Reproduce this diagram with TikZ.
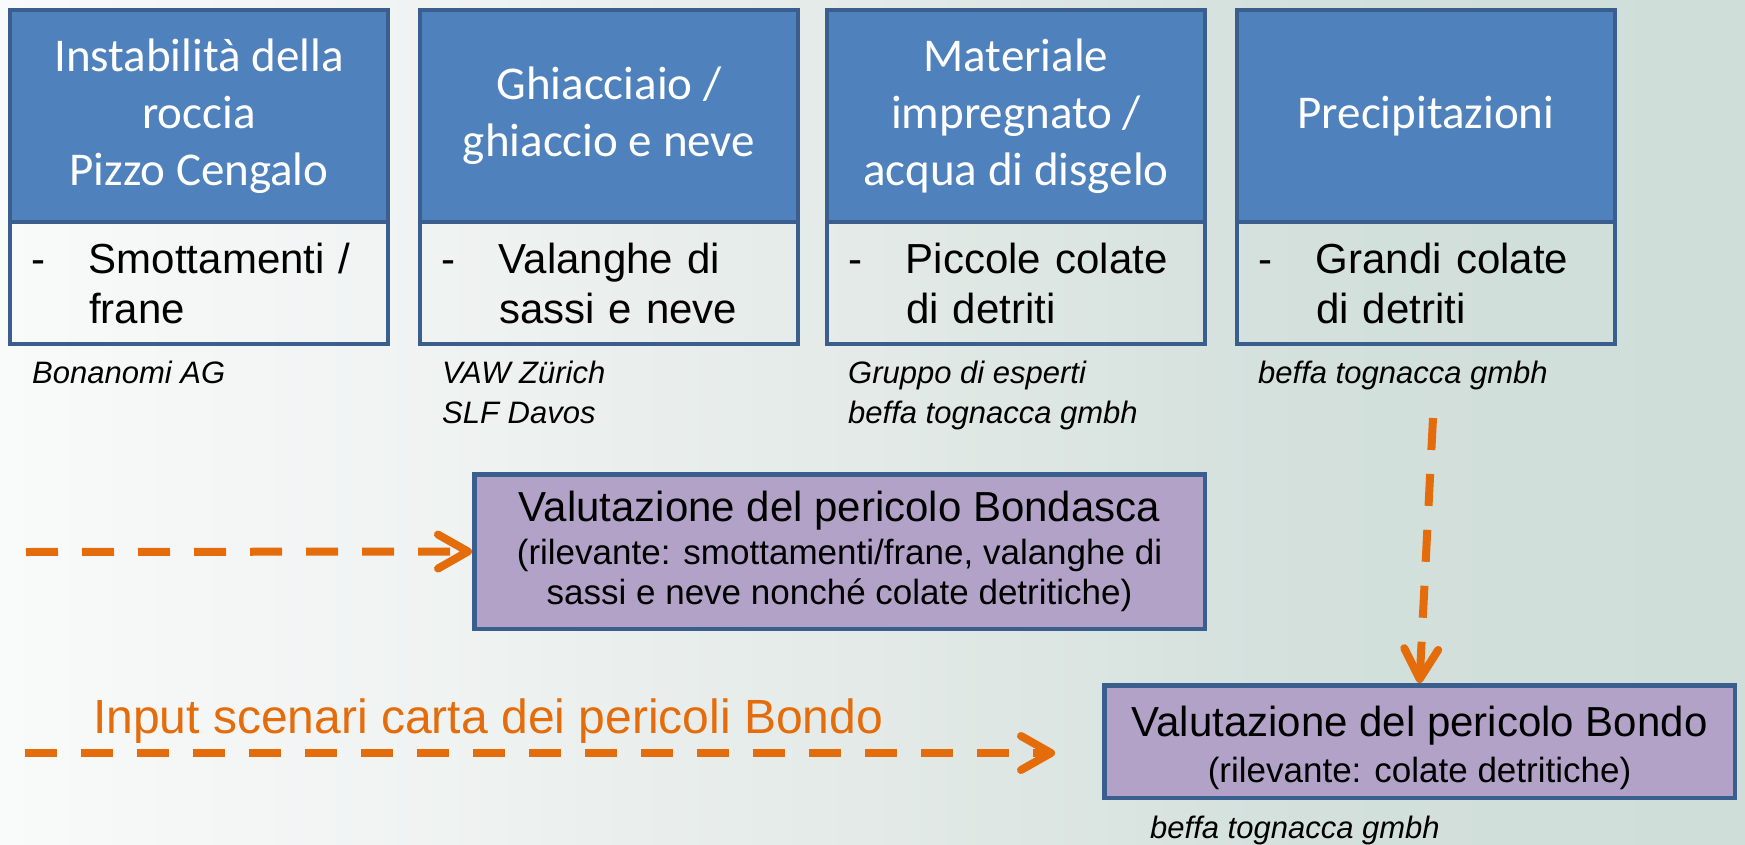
\documentclass[tikz,border=0pt]{standalone}
\usepackage{fontspec}
\setmainfont{Liberation Sans}
\newfontfamily\calib{Carlito}
\usetikzlibrary{arrows.meta}
\definecolor{hblue}{HTML}{4F81BD}
\definecolor{bdr}{HTML}{3A5F8E}
\definecolor{purp}{HTML}{B2A2C7}
\definecolor{orng}{HTML}{E46C0A}
\definecolor{bgA}{HTML}{F9FAFA}
\definecolor{bgB}{HTML}{EEF2F1}
\definecolor{bgC}{HTML}{E2E9E6}
\definecolor{bgD}{HTML}{D3E0DC}
\definecolor{bgE}{HTML}{CFDED9}
\pgfdeclarehorizontalshading{bgshade}{100bp}{color(0bp)=(bgA); color(25bp)=(bgA); color(39bp)=(bgB); color(51bp)=(bgC); color(62.5bp)=(bgD); color(75bp)=(bgE); color(100bp)=(bgE)}
\begin{document}
\begin{tikzpicture}[x=1pt,y=-1pt,
  hdr/.style={draw=bdr, fill=hblue, line width=4.5pt, minimum width=378pt, minimum height=212pt, inner sep=0pt, text=white, align=center, font=\calib\fontsize{47}{57}\selectfont},
  bodyc/.style={draw=bdr, line width=4.5pt, minimum width=378pt, minimum height=122pt, inner sep=0pt, text width=336pt, font=\fontsize{42}{50}\selectfont},
  capt/.style={anchor=base west, inner sep=0pt, font=\itshape\fontsize{31}{40}\selectfont},
  pbox/.style={draw=bdr, fill=purp, line width=4.5pt, inner sep=0pt, align=center, font=\fontsize{35}{40}\selectfont},
  dasharrow/.style={draw=orng, line width=8pt, dash pattern=on 32pt off 24pt, -{Straight Barb[length=30pt,width=34pt,round]}}
]
\useasboundingbox (0,0) rectangle (1745,845);
\shade[shading=bgshade] (0,0) rectangle (1745,845);

% top boxes
\node[hdr] (h1) at (199,116) {Instabilità della\\roccia\\Pizzo Cengalo};
\node[bodyc] (b1) at (199,283) {\makebox[58pt][l]{-}\parbox[t]{270pt}{Smottamenti /\\frane}};
\node[hdr] (h2) at (609,116) {Ghiacciaio /\\ghiaccio e neve};
\node[bodyc] (b2) at (609,283) {\makebox[58pt][l]{-}\parbox[t]{270pt}{Valanghe di\\sassi e neve}};
\node[hdr] (h3) at (1016,116) {Materiale\\impregnato /\\acqua di disgelo};
\node[bodyc] (b3) at (1016,283) {\makebox[58pt][l]{-}\parbox[t]{270pt}{Piccole colate\\di detriti}};
\node[hdr] (h4) at (1426,116) {Precipitazioni};
\node[bodyc] (b4) at (1426,283) {\makebox[58pt][l]{-}\parbox[t]{270pt}{Grandi colate\\di detriti}};

% captions
\node[capt] (c1) at (32,383) {Bonanomi AG};
\node[capt] (c2a) at (442,383) {VAW Zürich};
\node[capt] (c2b) at (442,423) {SLF Davos};
\node[capt] (c3a) at (848,383) {Gruppo di esperti};
\node[capt] (c3b) at (848,423) {beffa tognacca gmbh};
\node[capt] (c4) at (1258,383) {beffa tognacca gmbh};

% purple boxes
\node[pbox, minimum width=730.5pt, minimum height=154.5pt] (bondasca) at (839.5,551.5)
  {{\fontsize{42}{43}\selectfont Valutazione del pericolo Bondasca}\\[3pt](rilevante: smottamenti/frane, valanghe di\\sassi e neve nonché colate detritiche)};
\node[pbox, minimum width=630.5pt, minimum height=112.5pt] (bondo) at (1419.5,741.5)
  {{\fontsize{42}{43}\selectfont\rule{0pt}{44pt}Valutazione del pericolo Bondo}\\[6pt](rilevante: colate detritiche)};
\node[capt] (c5) at (1150,838) {beffa tognacca gmbh};

% input text
\node[anchor=base west, inner sep=0pt, text=orng, font=\fontsize{48}{56}\selectfont] (inp) at (93,733) {Input scenari carta dei pericoli Bondo};

% arrows
\coordinate (s1) at (26,552);
\coordinate (s2) at (25,753);
\coordinate (e2) at (1055,753);
\coordinate (s3) at (1433,418);
\draw[dasharrow] (s1) -- (bondasca.west);
\draw[dasharrow] (s2) -- (e2);
\draw[dasharrow] (s3) -- (bondo.north);
\end{tikzpicture}
\end{document}
